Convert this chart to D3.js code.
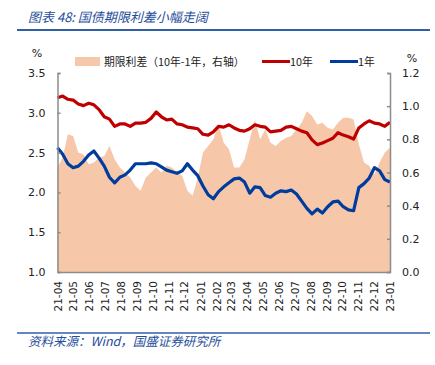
<!DOCTYPE html>
<html><head><meta charset="utf-8">
<script src="https://cdn.jsdelivr.net/npm/d3@7"></script>
<style>
html,body{margin:0;padding:0;background:#fff;}
svg{display:block;}
</style></head>
<body>
<svg id="chart" width="435" height="365"></svg>
<script>
const dates = ["2021-04-01","2021-04-11","2021-04-21","2021-05-01","2021-05-11","2021-05-21","2021-05-31","2021-06-10","2021-06-20","2021-06-30",
"2021-07-10","2021-07-20","2021-07-30","2021-08-09","2021-08-19","2021-08-29","2021-09-08","2021-09-18","2021-09-28","2021-10-08",
"2021-10-18","2021-10-28","2021-11-07","2021-11-17","2021-11-27","2021-12-07","2021-12-17","2021-12-27","2022-01-06","2022-01-16",
"2022-01-26","2022-02-05","2022-02-15","2022-02-25","2022-03-07","2022-03-17","2022-03-27","2022-04-06","2022-04-16","2022-04-26",
"2022-05-06","2022-05-16","2022-05-26","2022-06-05","2022-06-15","2022-06-25","2022-07-05","2022-07-15","2022-07-25","2022-08-04",
"2022-08-14","2022-08-24","2022-09-03","2022-09-13","2022-09-23","2022-10-03","2022-10-13","2022-10-23","2022-11-02","2022-11-12",
"2022-11-22","2022-12-02","2022-12-12","2022-12-22","2023-01-01"];

const tenY = [3.19,3.21,3.17,3.16,3.11,3.09,3.12,3.10,3.04,2.95,
2.92,2.83,2.86,2.86,2.83,2.87,2.87,2.88,2.93,3.01,
2.95,2.91,2.92,2.86,2.85,2.82,2.81,2.80,2.73,2.72,
2.76,2.83,2.82,2.85,2.81,2.78,2.77,2.80,2.85,2.83,
2.82,2.76,2.77,2.78,2.82,2.83,2.80,2.77,2.75,2.66,
2.60,2.62,2.65,2.68,2.75,2.72,2.70,2.67,2.81,2.86,
2.90,2.87,2.86,2.83,2.88];

const oneY = [2.56,2.48,2.36,2.31,2.33,2.39,2.47,2.52,2.43,2.33,
2.19,2.12,2.19,2.22,2.28,2.36,2.36,2.36,2.37,2.36,
2.32,2.28,2.26,2.24,2.27,2.36,2.28,2.21,2.08,1.97,
1.92,2.01,2.07,2.12,2.17,2.18,2.13,1.99,2.07,2.06,
1.96,1.94,1.99,2.02,2.01,2.03,1.98,1.89,1.80,1.73,
1.79,1.74,1.82,1.88,1.89,1.82,1.78,1.77,2.06,2.11,
2.18,2.31,2.27,2.16,2.13];

const spread = [0.63,0.69,0.83,0.82,0.72,0.71,0.65,0.66,0.69,0.70,
0.76,0.68,0.63,0.60,0.57,0.52,0.49,0.57,0.60,0.63,
0.60,0.64,0.63,0.60,0.58,0.49,0.46,0.57,0.72,0.76,
0.80,0.89,0.78,0.74,0.63,0.63,0.68,0.80,0.92,0.80,
0.86,0.78,0.76,0.79,0.81,0.82,0.86,0.90,0.97,0.94,
0.89,0.90,0.87,0.86,0.90,0.93,0.93,0.92,0.77,0.66,
0.64,0.59,0.66,0.72,0.75];

const tickMonths = ["2021-04-01","2021-05-01","2021-06-01","2021-07-01","2021-08-01","2021-09-01","2021-10-01","2021-11-01","2021-12-01",
"2022-01-01","2022-02-01","2022-03-01","2022-04-01","2022-05-01","2022-06-01","2022-07-01","2022-08-01","2022-09-01","2022-10-01","2022-11-01","2022-12-01","2023-01-01"];
const tickLabels = ["21-04","21-05","21-06","21-07","21-08","21-09","21-10","21-11","21-12",
"22-01","22-02","22-03","22-04","22-05","22-06","22-07","22-08","22-09","22-10","22-11","22-12","23-01"];
const leftTicks = [1.0,1.5,2.0,2.5,3.0,3.5];
const rightTicks = [0.0,0.2,0.4,0.6,0.8,1.0,1.2];

const parse = d3.timeParse("%Y-%m-%d");
const data = dates.map((d,i)=>({date:parse(d), t:tenY[i], o:oneY[i], s:spread[i]}));

const svg = d3.select("#chart");
const L = 57.5, R = 390, T = 73, B = 272;

const x = d3.scaleTime().domain([parse("2021-04-01"), parse("2023-01-01")]).range([L, R]);
const yL = d3.scaleLinear().domain([1.0, 3.5]).range([B, T]);
const yR = d3.scaleLinear().domain([0, 1.2]).range([B, T]);

const blueTxt = "#1F4E9B";
// title
svg.append("text").attr("x",28).attr("y",22)
  .attr("font-family","'Noto Sans CJK SC', sans-serif").attr("font-size",13)
  .attr("font-style","italic").attr("fill",blueTxt).text("图表 48:  国债期限利差小幅走阔");
svg.append("line").attr("x1",17).attr("x2",430).attr("y1",30).attr("y2",30)
  .attr("stroke","#2F5FA7").attr("stroke-width",2);

// area
svg.append("path").datum(data)
  .attr("fill","#F6C8A9")
  .attr("d", d3.area().x(d=>x(d.date)).y0(B).y1(d=>yR(d.s)));

// lines
svg.append("path").datum(data).attr("fill","none").attr("stroke","#C00000").attr("stroke-width",3.2)
  .attr("stroke-linejoin","round")
  .attr("d", d3.line().x(d=>x(d.date)).y(d=>yL(d.t)));
svg.append("path").datum(data).attr("fill","none").attr("stroke","#003C9D").attr("stroke-width",3.2)
  .attr("stroke-linejoin","round")
  .attr("d", d3.line().x(d=>x(d.date)).y(d=>yL(d.o)));

const axisCol = "#8C8C8C";
const fontNum = "Verdana, 'DejaVu Sans', sans-serif";

// left axis
const gL = svg.append("g").attr("transform",`translate(${L},0)`)
  .call(d3.axisLeft(yL).tickValues(leftTicks).tickFormat(d3.format(".1f")).tickSize(-3).tickPadding(12));
// right axis
const gR = svg.append("g").attr("transform",`translate(${R},0)`)
  .call(d3.axisRight(yR).tickValues(rightTicks).tickFormat(d3.format(".1f")).tickSize(-3).tickPadding(12));
// bottom axis
const gB = svg.append("g").attr("transform",`translate(0,${B})`)
  .call(d3.axisBottom(x).tickValues(tickMonths.map(parse)).tickFormat((d,i)=>tickLabels[i]).tickSize(0).tickPadding(0));

[gL,gR,gB].forEach(g=>{
  g.select(".domain").attr("stroke",axisCol).attr("stroke-width",1.5);
  g.selectAll(".tick line").attr("stroke",axisCol).attr("stroke-width",1.5);
  g.selectAll("text").attr("fill","#222").attr("font-family",fontNum).attr("font-size",11);
});
gB.selectAll(".tick text")
  .attr("font-size",10.5)
  .attr("transform","rotate(-90)")
  .attr("text-anchor","end")
  .attr("x",-9).attr("y",0).attr("dy","0.35em");

// unit labels
svg.append("text").attr("x",37).attr("y",57).attr("text-anchor","middle")
  .attr("font-family",fontNum).attr("font-size",11).attr("fill","#222").text("%");
svg.append("text").attr("x",412).attr("y",62).attr("text-anchor","middle")
  .attr("font-family",fontNum).attr("font-size",11).attr("fill","#222").text("%");

// legend
const lg = svg.append("g").attr("font-family","'Noto Sans CJK SC', sans-serif").attr("font-size",10.8).attr("fill","#222");
lg.append("rect").attr("x",75).attr("y",57).attr("width",25).attr("height",9).attr("fill","#F6C8A9");
lg.append("text").attr("x",104).attr("y",66).text("期限利差（10年-1年，右轴）");
lg.append("line").attr("x1",262).attr("x2",290).attr("y1",61.5).attr("y2",61.5).attr("stroke","#C00000").attr("stroke-width",3);
lg.append("text").attr("x",290).attr("y",66).text("10年");
lg.append("line").attr("x1",330).attr("x2",358).attr("y1",61.5).attr("y2",61.5).attr("stroke","#003C9D").attr("stroke-width",3);
lg.append("text").attr("x",358).attr("y",66).text("1年");

// footer
svg.append("line").attr("x1",17).attr("x2",430).attr("y1",333).attr("y2",333)
  .attr("stroke","#2F5FA7").attr("stroke-width",1.5);
svg.append("text").attr("x",28).attr("y",346)
  .attr("font-family","'Noto Sans CJK SC', sans-serif").attr("font-size",12.5)
  .attr("font-style","italic").attr("fill",blueTxt).text("资料来源：Wind，国盛证券研究所");
</script>
</body></html>
